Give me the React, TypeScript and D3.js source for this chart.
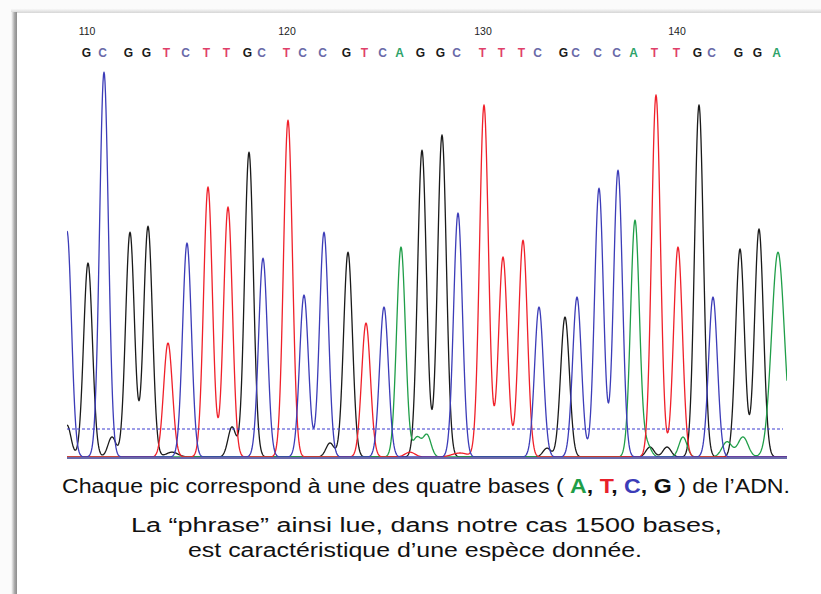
import React from "react";
import * as d3 from "d3";

// called bases, one per main peak (positions 110..145)
const bases = "GCGGTCTTGCTCCGTCAGGCTTTCGCCCATTGCGGA".split("");
const firstIndex = 110;

// main peaks (scan units, signal intensity)
const peakPos = [
  10.5, 18.5, 31.5, 40.5, 50.5, 60, 70.5, 80.5, 91, 98, 110.5, 118.5, 128.5,
  140.5, 149.5, 158.5, 167, 177.5, 187.5, 195.5, 208.5, 218, 228, 236, 249,
  255, 266, 275.5, 284, 294.5, 305.5, 316, 323, 336.5, 346, 355.5,
];
const peakHeight = [
  485, 962, 562, 577, 285, 535, 675, 625, 762, 497, 842, 405, 562, 512, 335,
  375, 525, 767, 805, 610, 880, 500, 542, 375, 350, 400, 672, 717, 592, 905,
  525, 880, 400, 520, 570, 512,
];
const peakWidth = [
  2.2, 2.2, 2.2, 2.2, 2.2, 2.2, 2.2, 2.2, 2.2, 2.2, 2.2, 2.2, 2.2, 2.2, 2.2,
  2.2, 2.2, 2.2, 2.2, 2.2, 2.2, 2.2, 2.2, 2.2, 2.2, 2.2, 2.2, 2.2, 2.2, 2.2,
  2.2, 2.2, 2.2, 2.2, 2.2, 3.2,
];

// the peak cut off at the left edge
const edgeBase = "C";
const edgePos = 0;
const edgeHeight = 565;

// small background bumps
const noiseBase = ["G", "G", "G", "G", "G", "T", "A", "A", "T", "G", "A", "G", "G", "A", "A", "A"];
const noisePos = [0, 22.5, 52.5, 82.5, 131.5, 171.5, 175, 180, 196.5, 240, 290, 291.5, 300, 308, 330, 338];
const noiseHeight = [80, 50, 12, 75, 35, 12, 48, 55, 10, 22, 30, 25, 25, 50, 38, 50];
const noiseWidth = [2, 2, 3, 2, 2, 2.5, 2, 2, 4, 2, 2, 2, 2, 2, 2.5, 2.5];

const threshold = 70;

const traceColor: Record<string, string> = {
  G: "#1a1a1a",
  A: "#1f9e48",
  T: "#f0202a",
  C: "#3c3cb8",
};
const letterColor: Record<string, string> = {
  G: "#1a1a1a",
  A: "#2ea36a",
  T: "#e0406a",
  C: "#6a6aa8",
};

const W = 821;
const H = 594;

export default function App() {
  const x = d3.scaleLinear().domain([0, 360]).range([67, 787]);
  const y = d3.scaleLinear().domain([0, 1000]).range([457, 57]);

  const channels = ["G", "A", "T", "C"];
  const samples = d3.range(0, 360.01, 0.25);

  // sum of the peaks of one dye channel at scan s
  const signal = (b: string, s: number) => {
    let v = 0;
    bases.forEach((bb, i) => {
      if (bb !== b) return;
      const d = (s - peakPos[i]) / peakWidth[i];
      v += peakHeight[i] * Math.exp(-0.5 * d * d);
    });
    noiseBase.forEach((bb, i) => {
      if (bb !== b) return;
      const d = (s - noisePos[i]) / noiseWidth[i];
      v += noiseHeight[i] * Math.exp(-0.5 * d * d);
    });
    if (b === edgeBase) {
      const d = (s - edgePos) / 2.2;
      v += edgeHeight * Math.exp(-0.5 * d * d);
    }
    return v;
  };

  const paths = channels.map((b) => {
    const gen = d3
      .line<number>()
      .x((s) => x(s))
      .y((s) => y(signal(b, s)));
    return { b, d: gen(samples) || "" };
  });

  const font = "'Liberation Sans', Arial, sans-serif";

  return (
    <svg
      width={W}
      height={H}
      style={{ position: "absolute", left: 0, top: 0 }}
      fontFamily={font}
    >
      <defs>
        <linearGradient id="shadowL" x1="0" x2="1" y1="0" y2="0">
          <stop offset="0" stopColor="#ffffff" />
          <stop offset="0.6" stopColor="#a8a8a8" />
          <stop offset="1" stopColor="#8c8c8c" />
        </linearGradient>
        <linearGradient id="shadowT" x1="0" x2="0" y1="0" y2="1">
          <stop offset="0" stopColor="#ffffff" />
          <stop offset="1" stopColor="#d6d6d6" />
        </linearGradient>
        <clipPath id="plot">
          <rect x={x(0)} y={0} width={x(360) - x(0)} height={y(0) + 2} />
        </clipPath>
      </defs>
      <rect width={W} height={H} fill="#fbfbfb" />
      <rect x={11} y={8} width={W - 11} height={5} fill="url(#shadowT)" />
      <rect x={11} y={12} width={6} height={H - 12} fill="url(#shadowL)" />
      <rect x={17} y={13} width={W - 17} height={H - 13} fill="#ffffff" />

      {/* position numbers */}
      {bases.map((b, i) =>
        (firstIndex + i) % 10 === 0 ? (
          <text
            key={"n" + i}
            x={x(peakPos[i]) - 1}
            y={35}
            fontSize={10.5}
            textAnchor="middle"
            fill="#222"
            fontFamily="'Liberation Sans Narrow', 'Liberation Sans', sans-serif"
          >
            {firstIndex + i}
          </text>
        ) : null
      )}
      {/* called bases */}
      {bases.map((b, i) => (
        <text
          key={"b" + i}
          x={x(peakPos[i]) - 1.5}
          y={57}
          fontSize={12}
          fontWeight="bold"
          textAnchor="middle"
          fill={letterColor[b]}
        >
          {b}
        </text>
      ))}

      <g clipPath="url(#plot)">
        {paths.map((p) => (
          <path
            key={p.b}
            d={p.d}
            fill="none"
            stroke={traceColor[p.b]}
            strokeWidth={1.3}
            strokeLinejoin="round"
          />
        ))}
      </g>

      <line
        x1={x(0)}
        x2={x(358)}
        y1={y(threshold)}
        y2={y(threshold)}
        stroke="#3b3bd0"
        strokeWidth={1}
        strokeDasharray="3,2"
      />
      <line
        x1={x(0)}
        x2={x(360)}
        y1={y(0) + 1}
        y2={y(0) + 1}
        stroke="#6a6aaa"
        strokeWidth={2}
      />

      <text x={62} y={493} fontSize={20} textLength={728} lengthAdjust="spacingAndGlyphs" fill="#111">
        <tspan>Chaque pic correspond à une des quatre bases  ( </tspan>
        <tspan fontWeight="bold" fill="#1f9e48">A</tspan>
        <tspan fontWeight="bold">, </tspan>
        <tspan fontWeight="bold" fill="#e8202a">T</tspan>
        <tspan fontWeight="bold">, </tspan>
        <tspan fontWeight="bold" fill="#3c3cb8">C</tspan>
        <tspan fontWeight="bold">, </tspan>
        <tspan fontWeight="bold">G</tspan>
        <tspan> ) de l’ADN.</tspan>
      </text>
      <text x={131} y={532} fontSize={20} textLength={591} lengthAdjust="spacingAndGlyphs" fill="#111">
        La “phrase” ainsi lue, dans notre cas 1500 bases,
      </text>
      <text x={188} y={557} fontSize={20} textLength={454} lengthAdjust="spacingAndGlyphs" fill="#111">
        est caractéristique d’une espèce donnée.
      </text>
    </svg>
  );
}
